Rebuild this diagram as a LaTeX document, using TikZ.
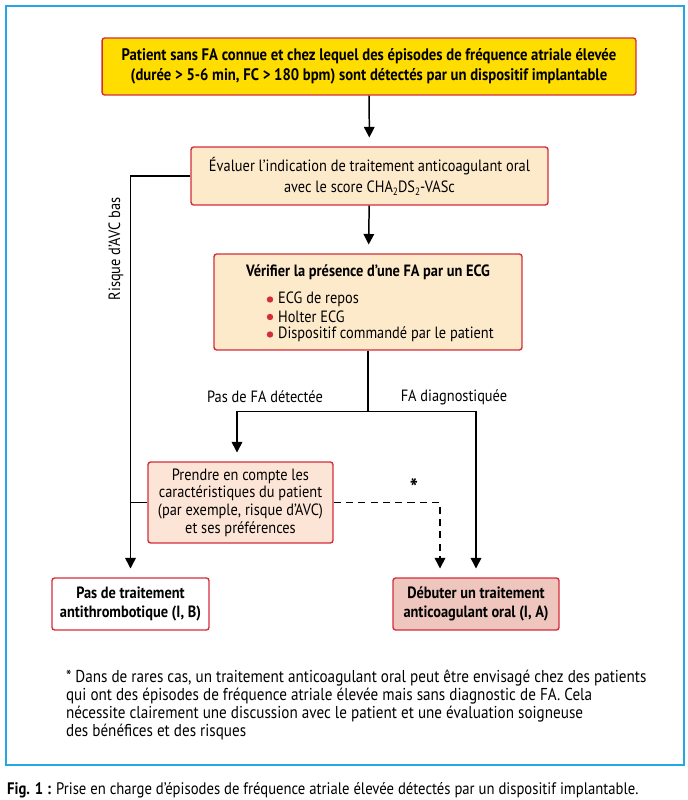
\documentclass[tikz,border=0pt]{standalone}
\usepackage{fontspec}
\setmainfont{PT Sans}[FakeStretch=0.88]
\usetikzlibrary{arrows.meta,calc}
\definecolor{cadre}{RGB}{35,168,228}
\definecolor{bordrouge}{RGB}{212,45,58}
\definecolor{jaune}{RGB}{255,221,0}
\definecolor{peche}{RGB}{253,234,202}
\definecolor{rosepale}{RGB}{252,229,214}
\definecolor{roseage}{RGB}{239,198,190}
\newcommand{\indice}[1]{\raisebox{-1.6pt}{\fontsize{6}{6}\selectfont #1}}
\tikzset{
  boite/.style={draw=bordrouge, line width=0.8pt, rounded corners=1.5pt, align=center,
    inner sep=2pt, font=\fontsize{9.3}{10.6}\selectfont},
  trait/.style={line width=0.85pt, black},
  fleche/.style={trait, -{Triangle[width=6pt,length=6pt]}, shorten >=5pt},
  etiquette/.style={font=\fontsize{9.3}{10.6}\selectfont, inner sep=1pt},
  puce/.style={etiquette, anchor=west}
}
\begin{document}
\begin{tikzpicture}[x=0.02cm, y=-0.02cm]
			%%%%% cadre %%%%%
			\useasboundingbox (0,0) rectangle (688,800);
			\draw[cadre, line width=1.3pt] (6,6) rectangle (684,765);
			
			%%%%% boites %%%%%
			\node[boite, fill=jaune, minimum width=10.68cm, minimum height=1.14cm,
			  font=\fontsize{9.5}{11.4}\selectfont\bfseries] (depart) at (369,66.5)
			  {Patient sans FA connue et chez lequel des épisodes de fréquence atriale élevée\\
			   (durée > 5-6 min, FC > 180 bpm) sont détectés par un dispositif implantable};
			
			\node[boite, fill=peche, minimum width=7.14cm, minimum height=1.16cm,
			  font=\fontsize{9.3}{12}\selectfont] (evaluer) at (369.5,176)
			  {Évaluer l’indication de traitement anticoagulant oral\\
			   avec le score CHA\indice{2}DS\indice{2}-VASc};
			
			\node[boite, fill=peche, minimum width=6.16cm, minimum height=1.92cm] (verifier) at (368,302) {};
			\node[etiquette, font=\fontsize{9.3}{10.6}\selectfont\bfseries] (verifiertitre) at (368,272)
			  {Vérifier la présence d’une FA par un ECG};
			\foreach \y/\texte [count=\i] in {299.5/ECG de repos, 317/Holter ECG, 334.5/Dispositif commandé par le patient}{
			  \fill[bordrouge] (270,\y) circle (3.2);
			  \node[puce] (item\i) at (276,\y) {\texte};
			}
			
			\node[boite, fill=rosepale, minimum width=3.7cm, minimum height=1.62cm,
			  font=\fontsize{9.3}{10}\selectfont] (prendre) at (240.5,502.5)
			  {Prendre en compte les\\ caractéristiques du patient\\ (par exemple, risque d'AVC)\\ et ses préférences};
			
			\node[boite, fill=white, minimum width=3.14cm, minimum height=1.04cm,
			  font=\fontsize{9.3}{10.6}\selectfont\bfseries] (pastrait) at (130.5,604)
			  {Pas de traitement\\ antithrombotique (I, B)};
			
			\node[boite, fill=roseage, minimum width=3.32cm, minimum height=1.04cm,
			  font=\fontsize{9.3}{10.6}\selectfont\bfseries] (debuter) at (476,604)
			  {Débuter un traitement\\ anticoagulant oral (I, A)};
			
			%%%%% liaisons %%%%%
			\draw[fleche] (depart) -- (evaluer);
			\draw[fleche] (evaluer) -- (verifier);
			\draw[fleche] (evaluer.west) -| (pastrait.north);
			\draw[trait] (prendre.west) -- (prendre.west -| pastrait.north);
			\draw[trait] (verifier.south) -- ++(0,61) coordinate (fourche);
			\draw[fleche] (fourche) -| ([xshift=-0.07cm]prendre.north);
			\draw[fleche] (fourche) -| (debuter.north);
			\draw[fleche, dashed, dash pattern=on 4pt off 3pt] (prendre.east) -| ([xshift=-0.72cm]debuter.north);
			
			%%%%% etiquettes %%%%%
			\node[etiquette, rotate=90] (risque) at (116,249) {Risque d'AVC bas};
			\node[etiquette] (pasfa) at (265,397) {Pas de FA détectée};
			\node[etiquette] (fadiag) at (454,397) {FA diagnostiquée};
			\node[etiquette, font=\fontsize{14}{14}\selectfont\bfseries] (etoile) at (414,488) {*};
			
			%%%%% notes %%%%%
			\node[etiquette, anchor=north west, align=left, font=\fontsize{9.8}{10.25}\selectfont] (note) at (64,668)
			  {* Dans de rares cas, un traitement anticoagulant oral peut être envisagé chez des patients\\
			   qui ont des épisodes de fréquence atriale élevée mais sans diagnostic de FA. Cela\\
			   nécessite clairement une discussion avec le patient et une évaluation soigneuse\\
			   des bénéfices et des risques};
			\node[etiquette, anchor=west, font=\fontsize{9.5}{10.6}\selectfont] (legende) at (5,790)
			  {\textbf{Fig. 1 :} Prise en charge d'épisodes de fréquence atriale élevée détectés par un dispositif implantable.};
		\end{tikzpicture}
\end{document}
